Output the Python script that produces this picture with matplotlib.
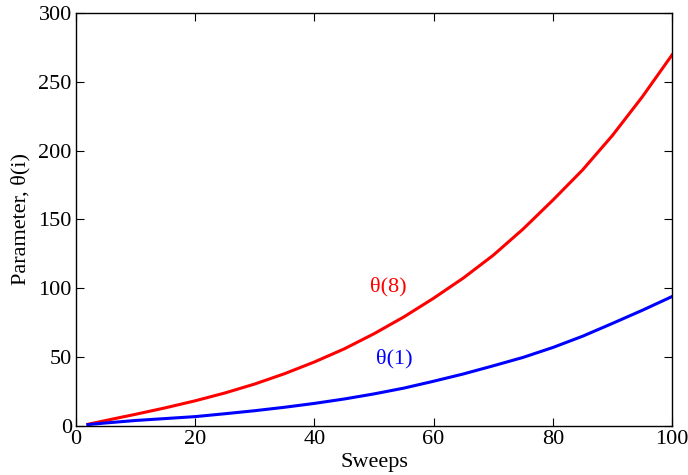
import matplotlib
matplotlib.use("Agg")
import matplotlib.pyplot as plt

# values
sweeps = [2, 5, 10, 15, 20, 25, 30, 35, 40, 45, 50,
          55, 60, 65, 70, 75, 80, 85, 90, 95, 100]
theta_8 = [1.2, 4.0, 8.5, 13.2, 18.3, 24.0, 30.5, 38.0, 46.5, 56.0, 67.0,
           79.2, 92.8, 107.5, 124.0, 143.0, 164.0, 186.0, 211.0, 239.0, 269.5]
theta_1 = [1.0, 2.2, 4.0, 5.4, 6.8, 8.9, 11.1, 13.6, 16.4, 19.6, 23.3,
           27.5, 32.5, 37.8, 43.7, 49.8, 57.0, 65.2, 74.5, 84.0, 94.0]

labels = ["\u03b8(8)", "\u03b8(1)"]
label_pos = [(49.3, 101), (50.4, 48.7)]
colors = ["#ff0000", "#0000ff"]

plt.rcParams["font.family"] = ["Liberation Serif", "DejaVu Serif"]

fig = plt.figure(figsize=(6.88, 4.75), dpi=100)
ax = fig.add_axes([0.1105, 0.1032, 0.8662, 0.8694])

ax.plot(sweeps, theta_8, color=colors[0], lw=2.2)
ax.plot(sweeps, theta_1, color=colors[1], lw=2.2)

for text, (x, y), c in zip(labels, label_pos, colors):
    ax.text(x, y, text, color=c, fontsize=16, ha="left", va="center")

ax.set_xlim(0, 100)
ax.set_ylim(0, 300)
ax.set_xticks(range(0, 101, 20))
ax.set_yticks(range(0, 301, 50))
ax.tick_params(direction="in", length=6, width=0.8, top=True, right=True,
               labelsize=16, pad=3)
for s in ax.spines.values():
    s.set_linewidth(1.0)

ax.set_xlabel("Sweeps", fontsize=16, labelpad=3)
ax.set_ylabel("Parameter, \u03b8(i)", fontsize=16, labelpad=6)

fig.savefig("out.png", dpi=100)
